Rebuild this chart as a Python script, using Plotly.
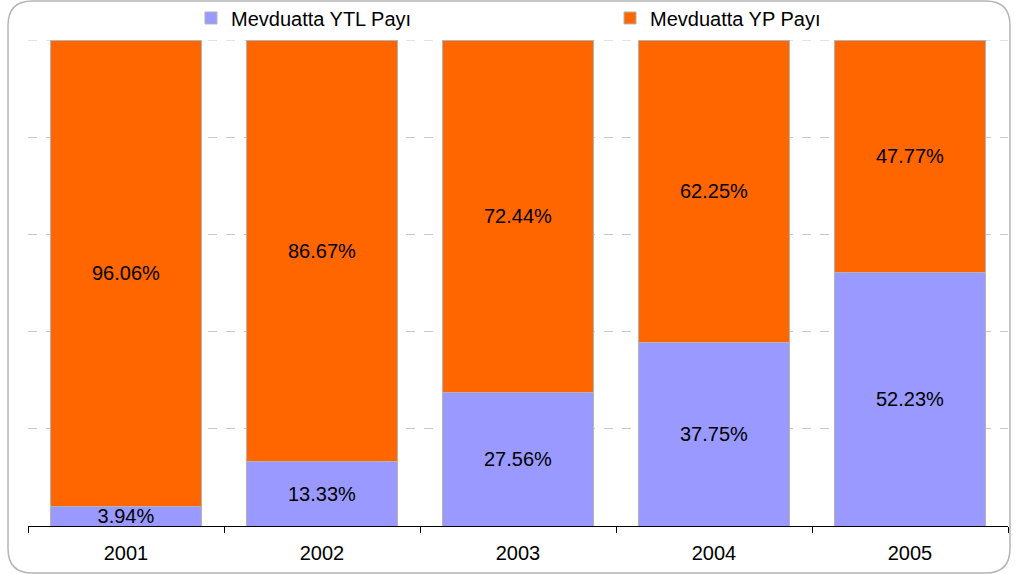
"""Stacked 100% bar chart: share of TL vs FX deposits."""

import plotly.graph_objects as go

years = ['2001', '2002', '2003', '2004', '2005']
ytl_share = [3.94, 13.33, 27.56, 37.75, 52.23]
yp_share = [96.06, 86.67, 72.44, 62.25, 47.77]
series_names = ['Mevduatta YTL Payı', 'Mevduatta YP Payı']

FONT = 'Liberation Sans, Arial, sans-serif'

fig = go.Figure()

fig.add_trace(go.Bar(
    x=years,
    y=ytl_share,
    name=series_names[0],
    legend='legend',
    marker=dict(color='#9999FF', line=dict(color='#B4B4B4', width=1)),
    text=[f'{v:.2f}%' for v in ytl_share],
    textposition='inside',
    insidetextanchor='middle',
    constraintext='none',
    textfont=dict(family=FONT, size=20, color='black'),
))

fig.add_trace(go.Bar(
    x=years,
    y=yp_share,
    name=series_names[1],
    legend='legend2',
    marker=dict(color='#FF6600', line=dict(color='#B4B4B4', width=1)),
    text=[f'{v:.2f}%' for v in yp_share],
    textposition='inside',
    insidetextanchor='middle',
    constraintext='none',
    textfont=dict(family=FONT, size=20, color='black'),
))

# rounded outer frame, in paper coords around the plot area
x0, x1 = -0.0204, 1.002
y0, y1 = -0.0967, 1.080
rx, ry = 0.025, 0.05
frame = (
    f'M {x0 + rx},{y1} L {x1 - rx},{y1} Q {x1},{y1} {x1},{y1 - ry} '
    f'L {x1},{y0 + ry} Q {x1},{y0} {x1 - rx},{y0} '
    f'L {x0 + rx},{y0} Q {x0},{y0} {x0},{y0 + ry} '
    f'L {x0},{y1 - ry} Q {x0},{y1} {x0 + rx},{y1} Z'
)

legend_style = dict(
    orientation='h',
    xanchor='left',
    y=1.0453,
    yanchor='middle',
    font=dict(family=FONT, size=20, color='black'),
    bgcolor='rgba(0,0,0,0)',
)

fig.update_layout(
    barmode='stack',
    bargap=0.23,
    width=1016,
    height=574,
    margin=dict(l=28, r=8, t=40, b=48, autoexpand=False),
    paper_bgcolor='white',
    plot_bgcolor='white',
    font=dict(family=FONT, size=20, color='black'),
    showlegend=True,
    legend=dict(x=0.1663, **legend_style),
    legend2=dict(x=0.5939, **legend_style),
    xaxis=dict(
        showline=True,
        linecolor='black',
        linewidth=1,
        ticks='outside',
        tickson='boundaries',
        ticklen=6,
        tickcolor='black',
        showgrid=False,
        ticklabelstandoff=9,
        tickfont=dict(family=FONT, size=20, color='black'),
    ),
    yaxis=dict(
        range=[0, 100],
        dtick=20,
        showticklabels=False,
        showgrid=True,
        gridcolor='#C8C8C8',
        griddash='dash',
        gridwidth=1,
        zeroline=False,
        showline=False,
    ),
    shapes=[
        dict(
            type='path',
            xref='paper',
            yref='paper',
            path=frame,
            line=dict(color='#B4B4B4', width=1.5),
            layer='below',
        ),
        # top gridline at 100% (plotly skips the grid at the range edge)
        dict(
            type='line',
            xref='paper',
            yref='y',
            x0=0, x1=1, y0=100, y1=100,
            line=dict(color='#C8C8C8', width=1, dash='dash'),
            layer='below',
        ),
    ],
)

fig.write_html(
    'out.html',
    config={'displayModeBar': False},
    post_script="document.body.style.margin = '0';",
)
